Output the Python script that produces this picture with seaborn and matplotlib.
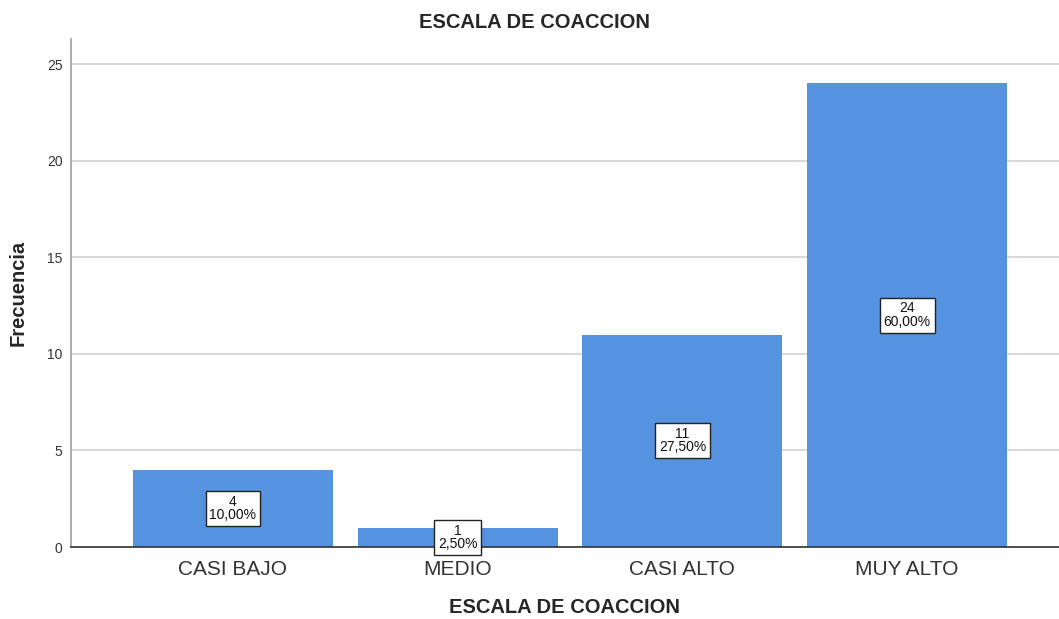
import numpy as np
import pandas as pd
import matplotlib
matplotlib.use("Agg")
import matplotlib.pyplot as plt
import seaborn as sns

# data
niveles = ["CASI BAJO", "MEDIO", "CASI ALTO", "MUY ALTO"]
frecuencia = [4, 1, 11, 24]
porcentaje = [10.00, 2.50, 27.50, 60.00]

df = pd.DataFrame({"nivel": niveles, "frecuencia": frecuencia})

sns.set_style("white")
plt.rcParams["font.family"] = ["Liberation Sans", "DejaVu Sans"]

fig = plt.figure(figsize=(10.59, 6.19), dpi=100)
ax = fig.add_axes([0.067, 0.1163, 0.933, 0.8207])

sns.barplot(data=df, x="nivel", y="frecuencia", color="#5593E0",
            saturation=1, width=0.89, linewidth=0, ax=ax, zorder=3)

ax.set_ylim(0, 26.3)
ax.set_xlim(-0.721, 3.676)
ax.set_yticks([0, 5, 10, 15, 20, 25])
ax.yaxis.grid(True, color="#D4D4D4", linewidth=1.3, zorder=0)
ax.set_axisbelow(True)

for s in ["top", "right"]:
    ax.spines[s].set_visible(False)
ax.spines["left"].set_color("#A6A6A6")
ax.spines["left"].set_linewidth(1.3)
ax.spines["bottom"].set_color("#333333")
ax.spines["bottom"].set_linewidth(1.2)
ax.spines["bottom"].set_zorder(5)

ax.tick_params(axis="y", length=0, pad=6, labelsize=10, labelcolor="#333333")
ax.tick_params(axis="x", length=0, pad=9, labelsize=15, labelcolor="#333333")

# value labels, SPSS style boxes in the middle of each bar
for i, (f, p) in enumerate(zip(frecuencia, porcentaje)):
    txt = f"{f}\n{p:.2f}%".replace(".", ",")
    ax.text(i, f / 2, txt, ha="center", va="center", fontsize=10,
            linespacing=0.95, color="#111111", zorder=6,
            bbox=dict(boxstyle="square,pad=0.28", fc="white", ec="#222222", lw=1))

ax.set_xlabel("ESCALA DE COACCION", fontsize=14.5, fontweight="bold", labelpad=14)
ax.set_ylabel("Frecuencia", fontsize=14.5, fontweight="bold", labelpad=14)
fig.text(0.505, 0.964, "ESCALA DE COACCION", ha="center", va="center",
         fontsize=14.5, fontweight="bold")

fig.savefig("out.png", dpi=100, facecolor="white")
